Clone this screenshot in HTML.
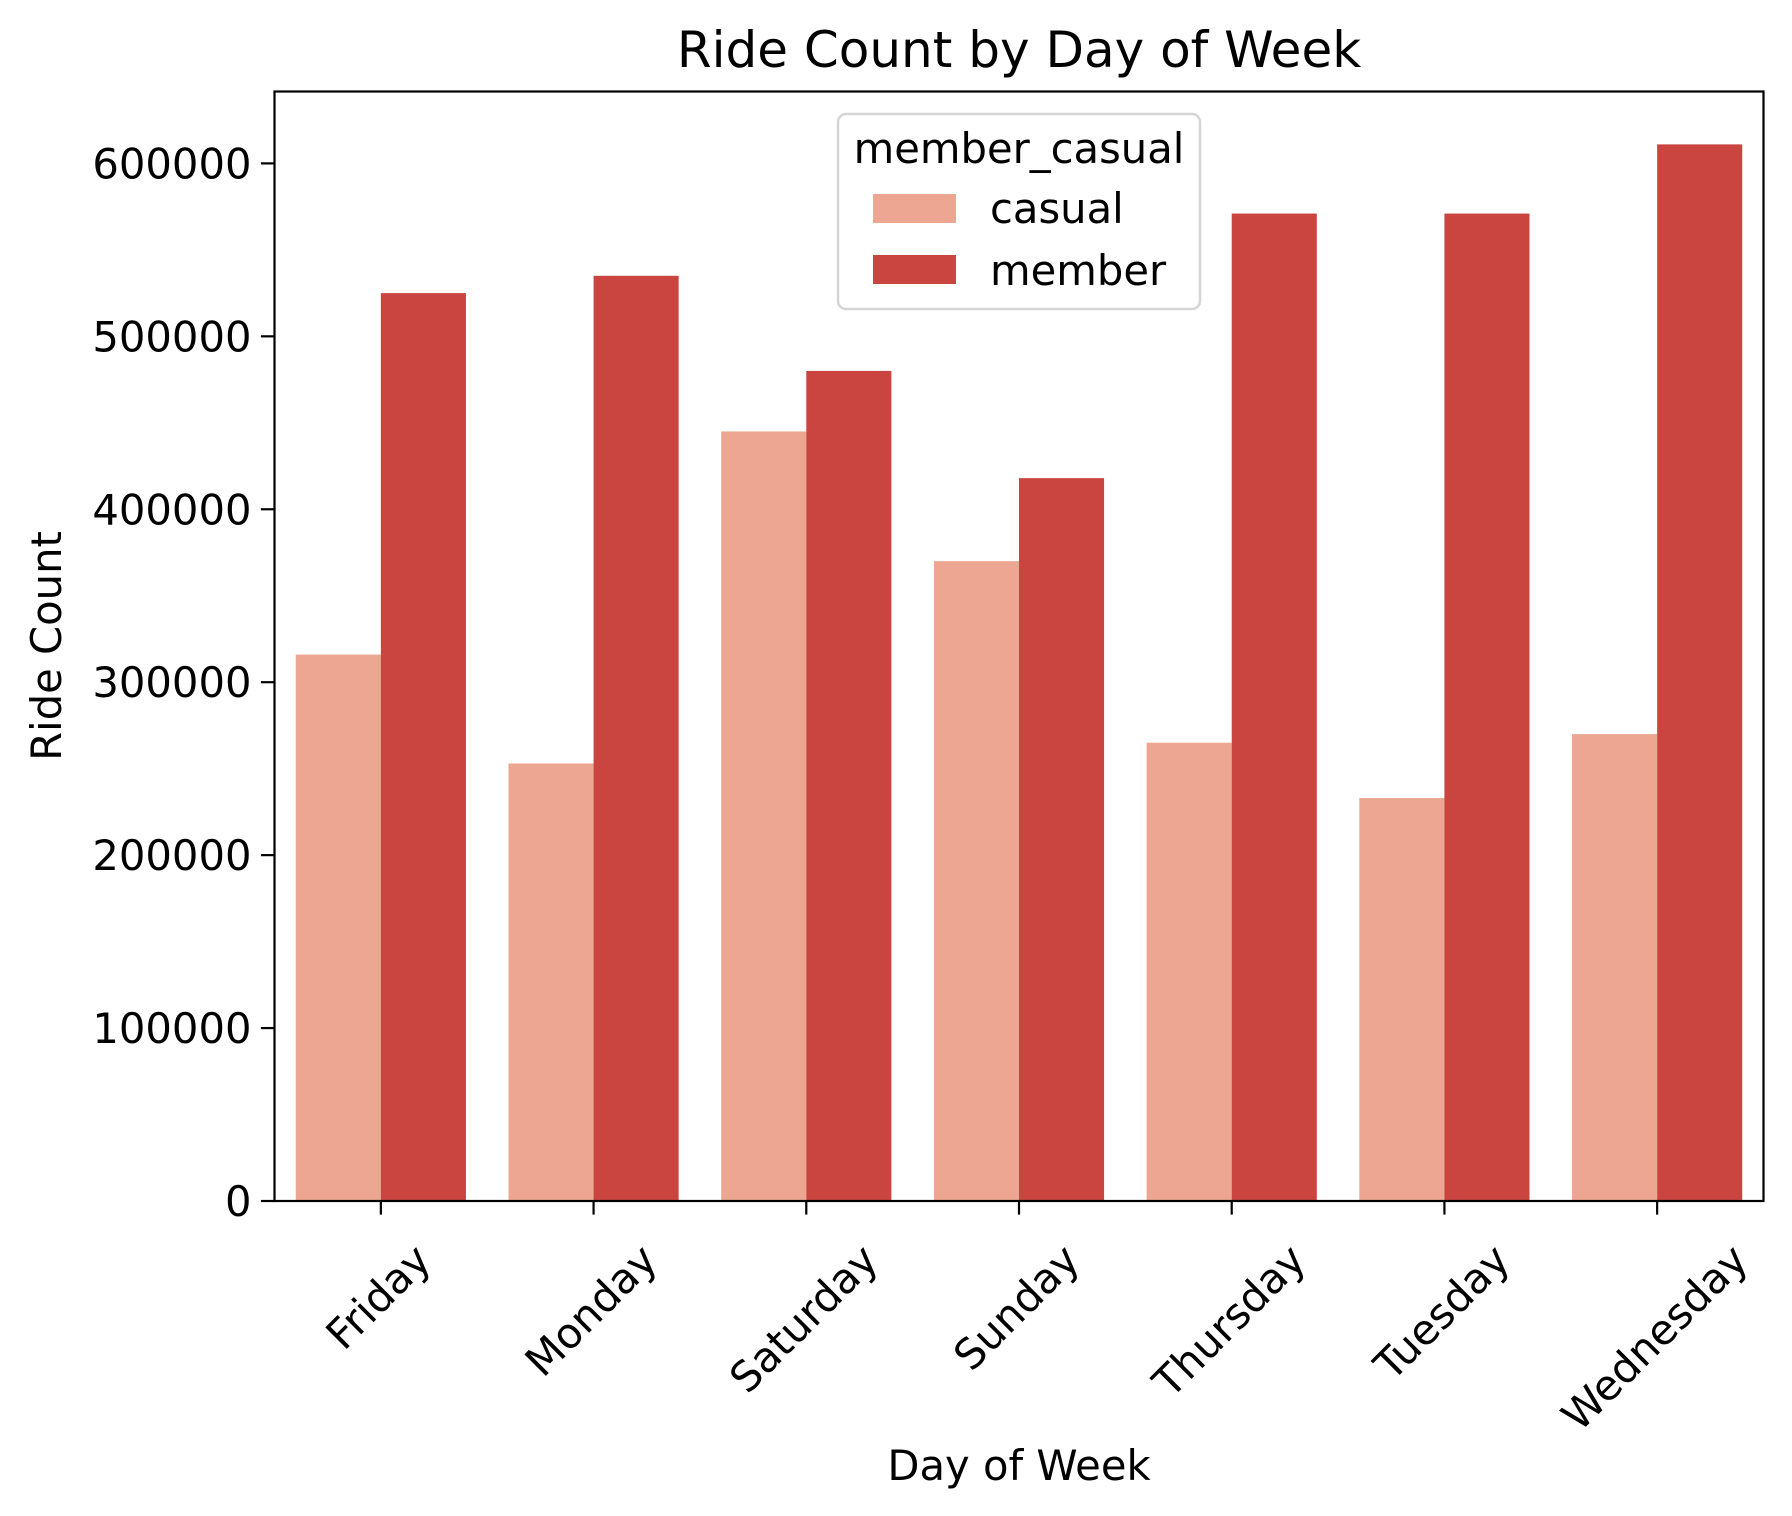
<!DOCTYPE html>
<html><head><meta charset="utf-8">
<style>
html,body{margin:0;padding:0;background:#fff;}
svg{display:block;font-family:"DejaVu Sans","Liberation Sans",sans-serif;}
</style></head>
<body>
<svg id="chart" width="1792" height="1516" viewBox="0 0 1792 1516" xmlns="http://www.w3.org/2000/svg">
<rect x="0" y="0" width="1792" height="1516" fill="#fff"/>
<g id="bars"></g>
<g id="yaxis"></g>
<g id="xaxis"></g>
<rect x="274.5" y="91.5" width="1489" height="1109.5" fill="none" stroke="#000" stroke-width="2.2"/>
<text x="1019" y="67" font-size="50" text-anchor="middle">Ride Count by Day of Week</text>
<text x="1019" y="1480" font-size="41.7" text-anchor="middle">Day of Week</text>
<text x="0" y="0" font-size="41.7" text-anchor="middle" transform="translate(61,646) rotate(-90)">Ride Count</text>
<g>
<rect x="838" y="114" width="362" height="195" rx="8" fill="#fff" fill-opacity="0.8" stroke="#d5d5d5" stroke-width="2.5"/>
<text x="1019" y="163" font-size="41.7" text-anchor="middle">member_casual</text>
<rect x="873" y="194" width="83" height="29" fill="#eca691"/>
<text x="990" y="223" font-size="41.7">casual</text>
<rect x="873" y="255" width="83" height="29" fill="#ca4540"/>
<text x="990" y="285" font-size="41.7">member</text>
</g>
</svg>
<script>
const categories = ["Friday","Monday","Saturday","Sunday","Thursday","Tuesday","Wednesday"];
const casualValues = [316000,253000,445000,370000,265000,233000,270000];
const memberValues = [525000,535000,480000,418000,571000,571000,611000];
const yTicks = [0,100000,200000,300000,400000,500000,600000];
const yTickLabels = ["0","100000","200000","300000","400000","500000","600000"];

const NS="http://www.w3.org/2000/svg";
const L=274.5,R=1763.5,B=1201,T=91.5;
const Y0=1201, Y600=163.4;
function yScale(v){return Y0-(v/600000)*(Y0-Y600);}
const step=(R-L)/categories.length;
function xCenter(i){return L+step*(i+0.5);}
const bw=step*0.8/2;
const barsG=document.getElementById('bars');
function mk(tag,attrs,parent){const e=document.createElementNS(NS,tag);for(const k in attrs)e.setAttribute(k,attrs[k]);parent.appendChild(e);return e;}
categories.forEach((c,i)=>{
  const cx=xCenter(i);
  const r1=mk('rect',{x:cx-bw,y:yScale(casualValues[i]),width:bw,height:Y0-yScale(casualValues[i]),fill:'#eca691'},barsG);
  
  
  const r2=mk('rect',{x:cx,y:yScale(memberValues[i]),width:bw,height:Y0-yScale(memberValues[i]),fill:'#ca4540'},barsG);
  
  
});
const yG=document.getElementById('yaxis');
yTicks.forEach((v,i)=>{
  const y=yScale(v);
  const t=mk('line',{x1:L-13.6,x2:L,y1:y,y2:y,stroke:'#000','stroke-width':2.2},yG);
  
  
  const tx=mk('text',{x:L-23,y:y+15,'font-size':41.7,'text-anchor':'end'},yG);
  tx.textContent=yTickLabels[i];
  
  
});
const xG=document.getElementById('xaxis');
const fs=41.7,a=0.76*fs,d=0.24*fs,k=Math.SQRT1_2;
categories.forEach((c,i)=>{
  const cx=xCenter(i);
  const t=mk('line',{x1:cx,x2:cx,y1:B,y2:B+13.6,stroke:'#000','stroke-width':2.2},xG);
  
  
  const tx=mk('text',{x:0,y:0,'font-size':fs,'text-anchor':'end'},xG);
  tx.textContent=c;
  
  
  const Lw=tx.getComputedTextLength();
  const top=1240;
  const Py=top+k*a;
  const Px=cx+(k*Lw+k*a-k*d)/2;
  tx.setAttribute('transform','translate('+Px+','+Py+') rotate(-45)');
});
</script>
</body></html>
